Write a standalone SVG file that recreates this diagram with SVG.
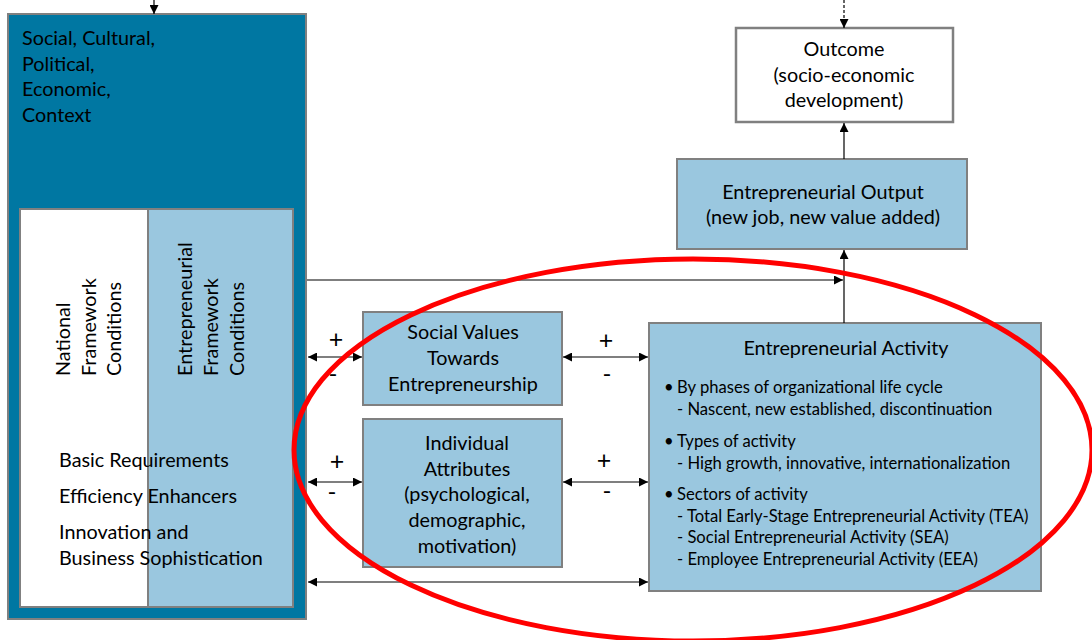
<svg xmlns="http://www.w3.org/2000/svg" width="1092" height="640" viewBox="0 0 1092 640">
<style>
text{font-family:Lato,"Liberation Sans",sans-serif;fill:#000;}
.t{font-size:19.8px;}
.s{font-size:16.6px;}
.c{text-anchor:middle;}
.box{fill:#9AC7DF;stroke:#808080;stroke-width:2;}
.ln{stroke:#000;stroke-width:1.2;fill:none;}
.pm{font-size:25px;text-anchor:middle;}
.mn{font-size:24px;text-anchor:middle;}
</style>
<defs>
<marker id="arr" viewBox="0 0 10 10" refX="10" refY="5" markerWidth="9" markerHeight="9" markerUnits="userSpaceOnUse" orient="auto-start-reverse">
<path d="M0,0 L10,5 L0,10 z" fill="#000"/>
</marker>
</defs>
<rect width="1092" height="640" fill="#fff"/>

<g id="context">
<rect x="8" y="14" width="298" height="605" fill="#0077A2" stroke="#808080" stroke-width="2"/>
<text class="t" x="22" y="45">Social, Cultural,</text>
<text class="t" x="22" y="71">Political,</text>
<text class="t" x="22" y="96">Economic,</text>
<text class="t" x="22" y="122">Context</text>
</g>

<g id="national">
<rect x="20" y="209" width="128" height="398" fill="#fff" stroke="#808080" stroke-width="2"/>
<text class="t" transform="translate(70,376) rotate(-90)">National</text>
<text class="t" transform="translate(96,376) rotate(-90)">Framework</text>
<text class="t" transform="translate(121,376) rotate(-90)">Conditions</text>
</g>

<g id="entrepreneurial-framework">
<rect x="148" y="209" width="145" height="398" class="box"/>
<text class="t" transform="translate(192,376) rotate(-90)">Entrepreneurial</text>
<text class="t" transform="translate(218,376) rotate(-90)">Framework</text>
<text class="t" transform="translate(244,376) rotate(-90)">Conditions</text>
</g>

<g id="pillars">
<text class="t" x="59" y="467">Basic Requirements</text>
<text class="t" x="59" y="503">Efficiency Enhancers</text>
<text class="t" x="59" y="539">Innovation and</text>
<text class="t" x="59" y="565">Business Sophistication</text>
</g>

<g id="outcome">
<rect x="736" y="28" width="217" height="94" fill="#fff" stroke="#808080" stroke-width="2.5"/>
<text class="t c" x="844" y="56">Outcome</text>
<text class="t c" x="844" y="82">(socio-economic</text>
<text class="t c" x="844" y="107">development)</text>
</g>

<g id="output">
<rect x="677" y="159" width="290" height="90" class="box"/>
<text class="t c" x="823" y="199">Entrepreneurial Output</text>
<text class="t c" x="823" y="224">(new job, new value added)</text>
</g>

<g id="social-values">
<rect x="363" y="312" width="199" height="93" class="box"/>
<text class="t c" x="463" y="339">Social Values</text>
<text class="t c" x="463" y="365">Towards</text>
<text class="t c" x="463" y="391">Entrepreneurship</text>
</g>

<g id="individual">
<rect x="363" y="419" width="199" height="148" class="box"/>
<text class="t c" x="467" y="450">Individual</text>
<text class="t c" x="467" y="476">Attributes</text>
<text class="t c" x="467" y="501">(psychological,</text>
<text class="t c" x="467" y="527">demographic,</text>
<text class="t c" x="467" y="553">motivation)</text>
</g>

<g id="activity">
<rect x="649" y="323" width="392" height="268" class="box"/>
<text class="t c" x="846" y="355">Entrepreneurial Activity</text>
<text class="s" x="664" y="393">•</text>
<text class="s" x="677" y="393">By phases of organizational life cycle</text>
<text class="s" x="677" y="415">- Nascent, new established, discontinuation</text>
<text class="s" x="664" y="447">•</text>
<text class="s" x="677" y="447">Types of activity</text>
<text class="s" x="677" y="469">- High growth, innovative, internationalization</text>
<text class="s" x="664" y="500">•</text>
<text class="s" x="677" y="500">Sectors of activity</text>
<text class="s" x="677" y="522">- Total Early-Stage Entrepreneurial Activity (TEA)</text>
<text class="s" x="677" y="543">- Social Entrepreneurial Activity (SEA)</text>
<text class="s" x="677" y="565">- Employee Entrepreneurial Activity (EEA)</text>
</g>

<g id="connectors">
<line class="ln" x1="154" y1="0" x2="154" y2="14" marker-end="url(#arr)"/>
<line class="ln" x1="844" y1="0" x2="844" y2="28" stroke-dasharray="3,2" marker-end="url(#arr)"/>
<line class="ln" x1="844" y1="159" x2="844" y2="123" marker-end="url(#arr)"/>
<line class="ln" x1="844" y1="323" x2="844" y2="250" marker-end="url(#arr)"/>
<line class="ln" x1="307" y1="280" x2="843" y2="280" stroke="#555" marker-end="url(#arr)"/>
<line class="ln" x1="308" y1="357" x2="362" y2="357" marker-start="url(#arr)" marker-end="url(#arr)"/>
<line class="ln" x1="563" y1="357" x2="648" y2="357" marker-start="url(#arr)" marker-end="url(#arr)"/>
<line class="ln" x1="308" y1="482" x2="362" y2="482" marker-start="url(#arr)" marker-end="url(#arr)"/>
<line class="ln" x1="563" y1="482" x2="648" y2="482" marker-start="url(#arr)" marker-end="url(#arr)"/>
<line class="ln" x1="308" y1="582" x2="648" y2="582" marker-start="url(#arr)" marker-end="url(#arr)"/>
<text class="pm" x="336" y="348">+</text>
<text class="mn" x="333" y="382">-</text>
<text class="pm" x="606" y="349">+</text>
<text class="mn" x="607" y="382">-</text>
<text class="pm" x="337" y="470">+</text>
<text class="mn" x="332" y="500">-</text>
<text class="pm" x="604" y="469">+</text>
<text class="mn" x="607" y="499">-</text>
</g>

<ellipse cx="693" cy="450" rx="399" ry="191" fill="none" stroke="#FF0000" stroke-width="5"/>
</svg>
